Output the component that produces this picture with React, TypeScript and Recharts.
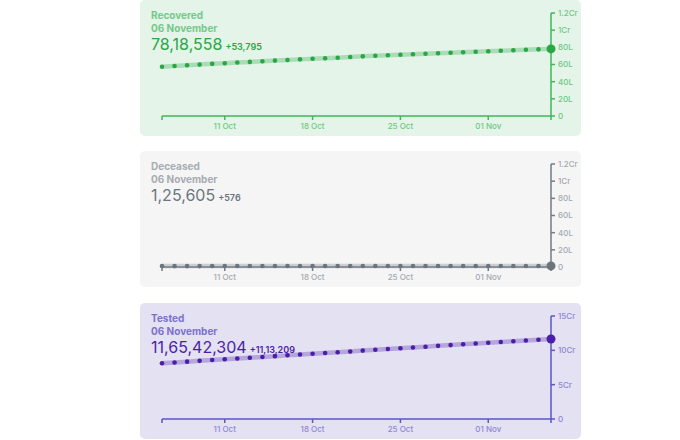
import { LineChart, Line, XAxis, YAxis } from 'recharts'

const dates = [
  '06 Oct', '07 Oct', '08 Oct', '09 Oct', '10 Oct', '11 Oct', '12 Oct', '13 Oct',
  '14 Oct', '15 Oct', '16 Oct', '17 Oct', '18 Oct', '19 Oct', '20 Oct', '21 Oct',
  '22 Oct', '23 Oct', '24 Oct', '25 Oct', '26 Oct', '27 Oct', '28 Oct', '29 Oct',
  '30 Oct', '31 Oct', '01 Nov', '02 Nov', '03 Nov', '04 Nov', '05 Nov', '06 Nov',
]

const recovered = [
  5744693, 5827704, 5906069, 5988822, 6077976, 6149535, 6224792, 6301927,
  6383441, 6452154, 6524595, 6597209, 6663608, 6733328, 6795103, 6874518,
  6948497, 7016046, 7078399, 7137228, 7201070, 7259326, 7315989, 7373375,
  7432829, 7491513, 7544798, 7597063, 7656478, 7711472, 7764763, 7818558,
]

const deceased = [
  104591, 105554, 106521, 107450, 108371, 109184, 109894, 110617,
  111311, 112161, 112998, 114064, 114642, 115236, 115950, 116616,
  117336, 117956, 118534, 119014, 119535, 120010, 120527, 121090,
  121641, 122111, 122607, 123097, 123611, 124315, 125029, 125605,
]

const tested = [
  81100000, 82300000, 83500000, 84700000, 85900000, 87050000, 88100000, 89200000,
  90350000, 91550000, 92750000, 93950000, 95050000, 96100000, 97250000, 98400000,
  99600000, 100800000, 102000000, 103100000, 104150000, 105300000, 106500000, 107650000,
  108800000, 109950000, 111050000, 112100000, 113200000, 114300000, 115429095, 116542304,
]

const xTicks = ['06 Oct', '11 Oct', '18 Oct', '25 Oct', '01 Nov', '06 Nov']
const labeledTicks = ['11 Oct', '18 Oct', '25 Oct', '01 Nov']
const lakhTicks = [0, 2000000, 4000000, 6000000, 8000000, 10000000, 12000000]
const croreTicks = [0, 50000000, 100000000, 150000000]

const fmtY = (v: number) => {
  if (v === 0) return '0'
  if (v >= 10000000) return `${v / 10000000}Cr`
  return `${v / 100000}L`
}

const font = 'Inter, "Noto Sans", sans-serif'

type PanelProps = {
  top: number
  title: string
  values: number[]
  total: string
  delta: string
  color: string
  head: string
  axis: string
  label: string
  bg: string
  yTicks: number[]
}

function Panel({ top, title, values, total, delta, color, head, axis, label, bg, yTicks }: PanelProps) {
  const data = dates.map((d, i) => ({ date: d, v: values[i] }))
  const last = data.length - 1
  return (
    <div
      style={{
        position: 'absolute',
        left: 140,
        top,
        width: 441,
        height: 136,
        background: bg,
        borderRadius: 5,
      }}
    >
      <LineChart
        width={441}
        height={136}
        data={data}
        margin={{ top: 13, right: 0, bottom: 0, left: 22 }}
        style={{ position: 'absolute', left: 0, top: 0 }}
      >
        <XAxis
          dataKey="date"
          ticks={xTicks}
          interval={0}
          tickFormatter={(d: string) => (labeledTicks.includes(d) ? d : '')}
          stroke={axis}
          strokeWidth={1.5}
          tickSize={4}
          tickMargin={3}
          height={20}
          tick={{ fill: label, fontSize: 8, fontFamily: font, fontWeight: 500 }}
        />
        <YAxis
          orientation="right"
          domain={[0, yTicks[yTicks.length - 1]]}
          ticks={yTicks}
          tickFormatter={fmtY}
          stroke={axis}
          strokeWidth={1.5}
          tickSize={4}
          tickMargin={3}
          width={30}
          tick={{ fill: label, fontSize: 8, fontFamily: font, fontWeight: 500, textAnchor: 'start' }}
        />
        <Line
          dataKey="v"
          stroke={color}
          strokeWidth={4.5}
          strokeOpacity={0.3}
          isAnimationActive={false}
          dot={(p: any) => (
            <circle
              key={`d${p.index}`}
              cx={p.cx}
              cy={p.cy}
              r={p.index === last ? 4.5 : 2.3}
              fill={color}
              stroke="none"
            />
          )}
          activeDot={false}
        />
      </LineChart>
      <div
        style={{
          position: 'absolute',
          left: 11,
          top: 9,
          fontFamily: font,
          color,
          pointerEvents: 'none',
        }}
      >
        <div style={{ fontSize: 10, lineHeight: '12.5px', fontWeight: 700, color: head }}>{title}</div>
        <div style={{ fontSize: 10, lineHeight: '12.5px', fontWeight: 700, color: head }}>06 November</div>
        <div style={{ marginTop: 1, lineHeight: '18px', whiteSpace: 'nowrap' }}>
          <span style={{ fontSize: 16, fontWeight: 400 }}>{total}</span>
          <span style={{ fontSize: 9, fontWeight: 600, marginLeft: 3 }}>{delta}</span>
        </div>
      </div>
    </div>
  )
}

export default function App() {
  return (
    <div
      style={{
        position: 'absolute',
        left: 0,
        top: 0,
        width: 680,
        height: 440,
        background: '#ffffff',
        overflow: 'hidden',
      }}
    >
      <Panel
        top={0}
        title="Recovered"
        values={recovered}
        total="78,18,558"
        delta="+53,795"
        color="#28a745"
        head="#74c98a"
        axis="#3cb95a"
        label="#6fc784"
        bg="#e4f4e8"
        yTicks={lakhTicks}
      />
      <Panel
        top={151}
        title="Deceased"
        values={deceased}
        total="1,25,605"
        delta="+576"
        color="#6c757d"
        head="#a7acb1"
        axis="#737b83"
        label="#a3a9ae"
        bg="#f5f5f6"
        yTicks={lakhTicks}
      />
      <Panel
        top={303}
        title="Tested"
        values={tested}
        total="11,65,42,304"
        delta="+11,13,209"
        color="#4b1eaa"
        head="#7c72cc"
        axis="#5d56c4"
        label="#8d87d6"
        bg="#e3e1f2"
        yTicks={croreTicks}
      />
    </div>
  )
}
